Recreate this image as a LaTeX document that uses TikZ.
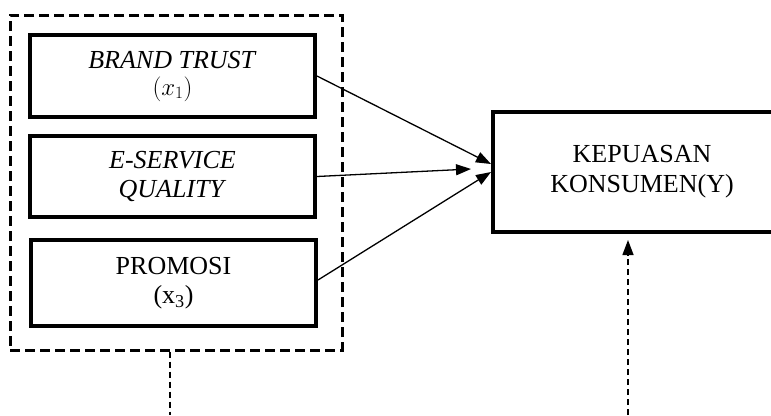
\documentclass[tikz,border=0pt]{standalone}
\usepackage{fontspec}
\setmainfont{Liberation Serif}
\usetikzlibrary{arrows.meta}

\tikzset{
  varbox/.style={draw, line width=4pt, minimum width=285pt, align=center,
    inner sep=0pt, font=\fontsize{26}{29}\selectfont},
  panah/.style={line width=1.3pt, -{Triangle[length=15pt,width=11pt]}},
  garis/.style={line width=1.4pt, dash pattern=on 6pt off 4pt}
}

\begin{document}
\begin{tikzpicture}[x=1pt,y=-1pt]
\useasboundingbox (0,0) rectangle (771,415);
\clip (0,0) rectangle (771,415);

% kelompok variabel bebas
\node [draw, line width=3pt, dash pattern=on 10pt off 5pt, minimum width=332pt,
  minimum height=335pt, inner sep=0pt] (grp) at (176,182.5) {};
\node [varbox, minimum height=82pt] (bt) at (172.5,76) {\textit{BRAND TRUST}\\[-2pt]$(x_1)$};
\node [varbox, minimum height=81pt] (es) at (172.5,176.5) {\textit{E-SERVICE}\\\textit{QUALITY}};
\node [varbox, minimum height=86pt] (pr) at (173.5,283) {PROMOSI\\(x\textsubscript{3})};

% variabel terikat
\node [draw, line width=4pt, minimum width=298pt, minimum height=120pt, align=center,
  font=\fontsize{26}{30}\selectfont] (kp) at (642,172) {KEPUASAN\\KONSUMEN(Y)};

\draw [panah] (bt.east) -- ([yshift=8pt]kp.west);
\draw [panah] (es.east) -- ([xshift=-20pt,yshift=3pt]kp.west);
\draw [panah] ([yshift=3pt]pr.east) -- (kp.west);

\coordinate (bawah1) at (170,415);
\coordinate (bawah2) at (628,415);
\draw [garis] ([xshift=-6pt]grp.south) -- (bawah1);
\draw [garis, -{Triangle[length=15pt,width=11pt]}] (bawah2) -- ([xshift=-14pt,yshift=-6pt]kp.south);
\end{tikzpicture}
\end{document}
